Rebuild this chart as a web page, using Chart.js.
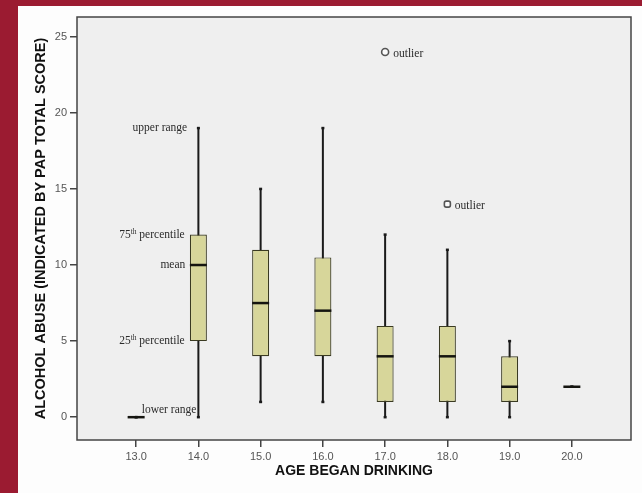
<!DOCTYPE html>
<html>
<head>
<meta charset="utf-8">
<script src="https://cdn.jsdelivr.net/npm/chart.js@4/dist/chart.umd.min.js"></script>
<style>
  html, body { margin: 0; padding: 0; background: #9b1b31; width: 642px; height: 493px; overflow: hidden; }
  #panel { position: absolute; left: 18px; top: 6px; right: 0; bottom: 0; background: #fdfdfd; }
  #box-chart { position: absolute; left: 0; top: 0; }
</style>
</head>
<body>
<div id="panel"></div>
<canvas id="box-chart" width="642" height="493"></canvas>
<script>
// age began drinking (x categories)
const ages = [13, 14, 15, 16, 17, 18, 19, 20];
// PAP total score summary per age
const lowRange = [0, 0, 1, 1, 0, 0, 0, 2];
const q1 = [0, 5, 4, 4, 1, 1, 1, 2];
const medians = [0, 10, 7.5, 7, 4, 4, 2, 2];
const q3 = [0, 12, 11, 10.5, 6, 6, 4, 2];
const highRange = [0, 19, 15, 19, 12, 11, 5, 2];
const outlierAges = [17, 18];
const outlierScores = [24, 14];
const outlierStyles = ['circle', 'rectRounded'];
const xTicks = [13, 14, 15, 16, 17, 18, 19, 20];
const yTicks = [0, 5, 10, 15, 20, 25];

// explanatory labels placed in data space: [text, x, y, align, superscript]
const notes = [
  ['upper range', 13.82, 19, 'right', null],
  ['75', 13.78, 12, 'right', 'th'],
  ['mean', 13.79, 10, 'right', null],
  ['25', 13.78, 5, 'right', 'th'],
  ['lower range', 13.09, 0.45, 'left', null],
  ['outlier', 17.13, 23.85, 'left', null],
  ['outlier', 18.12, 13.9, 'left', null],
];

const boxData = ages.map((a, i) => ({ x: a, y: [q1[i], q3[i]] }));
const whiskerData = ages.map((a, i) => ({ x: a, y: [lowRange[i], highRange[i]] }));
const medianData = ages.map((a, i) => ({ x: a, y: medians[i] }));
const capData = ages.flatMap((a, i) => [{ x: a, y: lowRange[i] }, { x: a, y: highRange[i] }]);
const outlierData = outlierAges.map((a, i) => ({ x: a, y: outlierScores[i] }));

const frame = {
  id: 'frame',
  beforeDatasetsDraw(chart) {
    const { ctx, chartArea: a } = chart;
    ctx.save();
    ctx.fillStyle = '#efefef';
    ctx.fillRect(a.left, a.top, a.right - a.left, a.bottom - a.top);
    ctx.restore();
  },
  afterDatasetsDraw(chart) {
    const { ctx, chartArea: a, scales } = chart;
    ctx.save();
    ctx.strokeStyle = '#444';
    ctx.lineWidth = 1.5;
    ctx.strokeRect(a.left, a.top, a.right - a.left, a.bottom - a.top);

    ctx.fillStyle = '#2b2b2b';
    ctx.textBaseline = 'middle';
    const main = '11.5px "Liberation Serif", serif';
    const small = '7.5px "Liberation Serif", serif';
    notes.forEach(([text, x, y, align, sup]) => {
      const px = scales.x.getPixelForValue(x);
      const py = scales.y.getPixelForValue(y);
      if (!sup) {
        ctx.font = main;
        ctx.textAlign = align;
        ctx.fillText(text, px, py);
        return;
      }
      const rest = ' percentile';
      ctx.font = main;
      const w1 = ctx.measureText(text).width;
      const w3 = ctx.measureText(rest).width;
      ctx.font = small;
      const w2 = ctx.measureText(sup).width;
      let start = px - (w1 + w2 + w3);
      ctx.textAlign = 'left';
      ctx.font = main;
      ctx.fillText(text, start, py);
      ctx.font = small;
      ctx.fillText(sup, start + w1, py - 3);
      ctx.font = main;
      ctx.fillText(rest, start + w1 + w2, py);
    });
    ctx.restore();
  },
};

const tickFont = { family: '"Liberation Sans", Arial, sans-serif', size: 11 };
const titleFont = { family: '"Liberation Sans", Arial, sans-serif', size: 14, weight: 'bold' };

new Chart(document.getElementById('box-chart'), {
  type: 'bar',
  data: {
    datasets: [
      {
        type: 'line',
        data: medianData,
        showLine: false,
        pointStyle: 'line',
        pointRadius: 8.5,
        pointBorderWidth: 2.5,
        pointBorderColor: '#151510',
        order: 0,
      },
      {
        type: 'line',
        data: outlierData,
        showLine: false,
        pointStyle: outlierStyles,
        pointRadius: 3.5,
        pointBorderWidth: 1.6,
        pointBorderColor: '#555',
        pointBackgroundColor: '#fafafa',
        order: 0,
      },
      {
        data: boxData,
        grouped: false,
        maxBarThickness: 17,
        backgroundColor: '#d7d69a',
        borderColor: '#3a3a22',
        borderWidth: 1.2,
        borderSkipped: false,
        order: 1,
      },
      {
        type: 'line',
        data: capData,
        showLine: false,
        pointStyle: 'line',
        pointRadius: 1.5,
        pointBorderWidth: 2.5,
        pointBorderColor: '#1a1a1a',
        order: 2,
      },
      {
        data: whiskerData,
        grouped: false,
        maxBarThickness: 2,
        backgroundColor: '#1a1a1a',
        borderWidth: 0,
        order: 3,
      },
    ],
  },
  options: {
    responsive: false,
    animation: false,
    events: [],
    layout: { padding: { left: 18, top: 17, right: 10, bottom: 0 } },
    plugins: { legend: { display: false }, tooltip: { enabled: false } },
    scales: {
      x: {
        type: 'linear',
        min: 12.05,
        max: 20.95,
        offset: false,
        afterBuildTicks: (s) => { s.ticks = xTicks.map(v => ({ value: v })); },
        afterFit: (s) => { s.height = 53; },
        grid: { display: true, offset: false, drawOnChartArea: false, drawTicks: true, tickLength: 7, color: '#444', lineWidth: 1.5 },
        border: { display: false },
        ticks: { font: tickFont, color: '#555', padding: 3, maxRotation: 0, callback: (v) => Number(v).toFixed(1) },
        title: { display: true, text: 'AGE BEGAN DRINKING', font: titleFont, color: '#111', padding: { top: 0, bottom: 13 } },
      },
      y: {
        type: 'linear',
        min: -1.5,
        max: 26.3,
        afterBuildTicks: (s) => { s.ticks = yTicks.map(v => ({ value: v })); },
        afterFit: (s) => { s.width = 59; },
        grid: { display: true, drawOnChartArea: false, drawTicks: true, tickLength: 7, color: '#444', lineWidth: 1.5 },
        border: { display: false },
        ticks: { font: tickFont, color: '#555', padding: 3 },
        title: { display: true, text: 'ALCOHOL ABUSE (INDICATED BY PAP TOTAL SCORE)', font: { ...titleFont, size: 14.5 }, color: '#111', padding: { top: 14, bottom: 0 } },
      },
    },
  },
  plugins: [frame],
});
</script>
</body>
</html>
